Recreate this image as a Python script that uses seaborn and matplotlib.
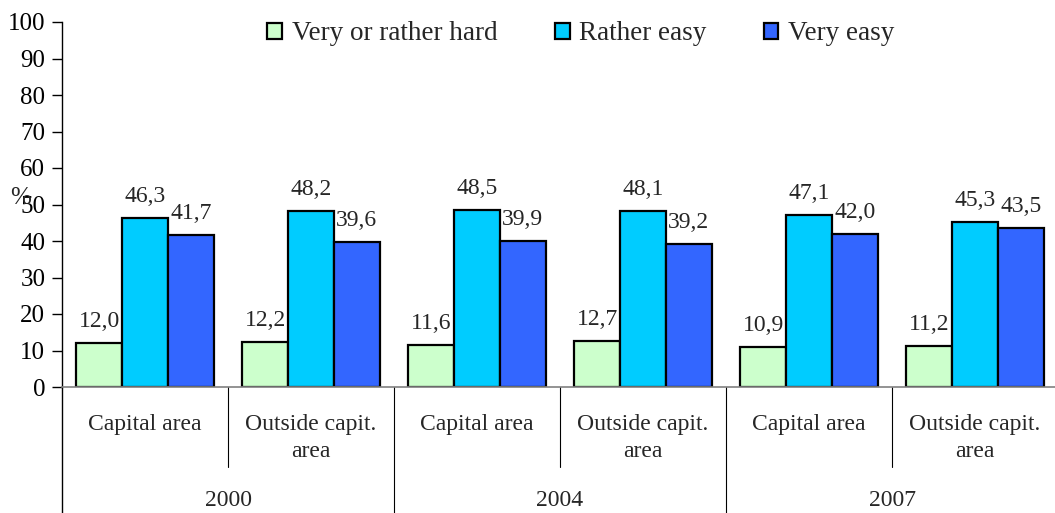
import matplotlib
matplotlib.use("Agg")
import matplotlib.pyplot as plt
import seaborn as sns
import pandas as pd
from matplotlib.transforms import blended_transform_factory
from matplotlib.lines import Line2D

years = ["2000", "2004", "2007"]
areas = ["Capital area", "Outside capit.\narea"]
series = ["Very or rather hard", "Rather easy", "Very easy"]
hard = [12.0, 12.2, 11.6, 12.7, 10.9, 11.2]
rather = [46.3, 48.2, 48.5, 48.1, 47.1, 45.3]
very = [41.7, 39.6, 39.9, 39.2, 42.0, 43.5]
colors = ["#CCFFCC", "#00CCFF", "#3366FF"]

groups = [f"{y} {a}" for y in years for a in areas]
rows = []
for s, vals in zip(series, [hard, rather, very]):
    for g, v in zip(groups, vals):
        rows.append({"group": g, "series": s, "value": v})
df = pd.DataFrame(rows)

sns.set_theme(style="white")
plt.rcParams["font.family"] = ["Liberation Serif", "DejaVu Serif"]

fig = plt.figure(figsize=(10.55, 5.13), dpi=100)
ax = fig.add_axes([62 / 1055, 1 - 387 / 513, (1058 - 62) / 1055, (387 - 22) / 513])

sns.barplot(data=df, x="group", y="value", hue="series", order=groups,
            hue_order=series, palette=colors, width=0.83, dodge=True,
            edgecolor="black", linewidth=1.6, saturation=1, ax=ax)

ax.set_xlim(-0.5, 5.5)
ax.set_ylim(0, 100)
ax.set_yticks(range(0, 101, 10))
ax.tick_params(axis="y", left=True, length=7, width=1, pad=5, labelsize=18, colors="black")
ax.set_xticks([])
ax.set_xlabel("")
ax.set_ylabel("")
for sp in ["top", "right"]:
    ax.spines[sp].set_visible(False)
ax.spines["left"].set_color("black")
ax.spines["left"].set_linewidth(1)
ax.spines["bottom"].set_color("#808080")
ax.spines["bottom"].set_linewidth(1.2)

for cont in ax.containers:
    ax.bar_label(cont, labels=[f"{v:.1f}".replace(".", ",") for v in cont.datavalues],
                 padding=8, fontsize=17)

trans = blended_transform_factory(ax.transData, ax.transAxes)
ax.add_line(Line2D([-0.5, -0.5], [0, -0.36], transform=trans, color="black", lw=1, clip_on=False))
for x in [0.5, 1.5, 2.5, 3.5, 4.5]:
    bottom = -0.36 if x in (1.5, 3.5) else -0.219
    ax.add_line(Line2D([x, x], [0, bottom], transform=trans, color="black", lw=0.8, clip_on=False))

for i, g in enumerate(groups):
    area = areas[i % 2]
    ax.text(i, -0.073, area, transform=trans, ha="center", va="top",
            fontsize=17, linespacing=1.4)
for j, y in enumerate(years):
    ax.text(2 * j + 0.5, -0.31, y, transform=trans, ha="center", va="center", fontsize=17)

fig.text(21 / 1055, 1 - 198 / 513, "%", ha="center", va="center", fontsize=18)

handles, labels = ax.get_legend_handles_labels()
ax.legend(handles, labels, loc="center", bbox_to_anchor=(581 / 1055, 1 - 34 / 513),
          bbox_transform=fig.transFigure, ncol=3, frameon=False, fontsize=19.5,
          handlelength=0.55, handleheight=0.55, handletextpad=0.36, columnspacing=2.1,
          borderaxespad=0)

fig.savefig("out.png", dpi=100)
